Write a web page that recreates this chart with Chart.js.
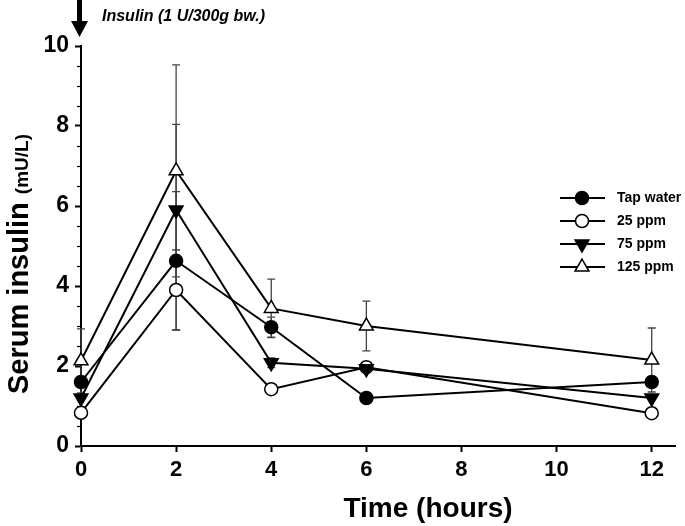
<!DOCTYPE html>
<html>
<head>
<meta charset="utf-8">
<script src="https://cdn.jsdelivr.net/npm/chart.js@4"></script>
<style>
  html, body { margin: 0; padding: 0; background: #fff; }
  #wrap { width: 685px; height: 526px; }
</style>
</head>
<body>
<div id="wrap"><canvas id="myChart" width="685" height="526"></canvas></div>
<script>
// data
const times = [0, 2, 4, 6, 12];
const seriesNames = ["Tap water", "25 ppm", "75 ppm", "125 ppm"];
const tapWater = [1.6, 4.63, 2.97, 1.2, 1.6];
const ppm25 = [0.83, 3.9, 1.42, 1.97, 0.82];
const ppm75 = [1.2, 5.9, 2.08, 1.93, 1.2];
const ppm125 = [2.13, 6.88, 3.44, 3.0, 2.15];
const tapWaterErr = [0, 1.73, 0.25, 0.06, 0];
const ppm25Err = [0, 1.0, 0, 0.05, 0];
const ppm75Err = [0, 2.14, 0.12, 0.07, 0];
const ppm125Err = [0.8, 2.65, 0.73, 0.62, 0.8];
const xTickValues = [0, 2, 4, 6, 8, 10, 12];
const yTickValues = [0, 2, 4, 6, 8, 10];

const FONT = "'Liberation Sans', Arial, sans-serif";
const errs = [tapWaterErr, ppm25Err, ppm75Err, ppm125Err];

function makeSet(label, values, fill, style, rot, order) {
  return {
    label: label,
    data: times.map((t, i) => ({ x: t, y: values[i] })),
    borderColor: "#000",
    borderWidth: 2,
    backgroundColor: fill,
    pointBackgroundColor: fill,
    pointBorderColor: "#000",
    pointBorderWidth: 1.5,
    pointStyle: style,
    pointRotation: rot,
    pointRadius: style === "triangle" ? 8 : 6.5,
    pointHoverRadius: style === "triangle" ? 8 : 6.5,
    tension: 0,
    clip: false,
    order: order
  };
}

const decor = {
  id: "decor",
  beforeDatasetsDraw(chart) {
    const ctx = chart.ctx;
    const xs = chart.scales.x, ys = chart.scales.y;
    ctx.save();
    ctx.strokeStyle = "#444";
    ctx.lineWidth = 1.3;
    chart.data.datasets.forEach((ds, i) => {
      ds.data.forEach((p, j) => {
        const e = errs[i][j];
        if (!e) return;
        const x = xs.getPixelForValue(p.x);
        const y1 = ys.getPixelForValue(p.y + e);
        const y2 = ys.getPixelForValue(p.y - e);
        ctx.beginPath();
        ctx.moveTo(x, y1); ctx.lineTo(x, y2);
        ctx.moveTo(x - 4, y1); ctx.lineTo(x + 4, y1);
        ctx.moveTo(x - 4, y2); ctx.lineTo(x + 4, y2);
        ctx.stroke();
      });
    });
    ctx.restore();
  },
  afterDraw(chart) {
    const ctx = chart.ctx;
    const ys = chart.scales.y;
    ctx.save();
    // minor ticks on y
    ctx.strokeStyle = "#000";
    ctx.lineWidth = 1.2;
    const left = chart.chartArea.left;
    for (let v = 0.5; v < 10; v += 0.5) {
      if (v % 2 === 0) continue;
      const y = Math.round(ys.getPixelForValue(v)) + 0.5;
      ctx.beginPath(); ctx.moveTo(left - 4, y); ctx.lineTo(left, y); ctx.stroke();
    }

    // legend
    const rowY = [198, 221, 244, 267];
    chart.data.datasets.forEach((ds, i) => {
      const y = rowY[i];
      ctx.strokeStyle = "#000";
      ctx.lineWidth = 2;
      ctx.beginPath(); ctx.moveTo(560, y); ctx.lineTo(605, y); ctx.stroke();
      ctx.fillStyle = ds.pointBackgroundColor;
      ctx.lineWidth = 1.5;
      Chart.helpers.drawPoint(ctx, {
        pointStyle: ds.pointStyle, radius: ds.pointRadius,
        rotation: ds.pointRotation, borderWidth: 1.5
      }, 582, y);
      ctx.fillStyle = "#000";
      ctx.font = "bold 14px " + FONT;
      ctx.textAlign = "left";
      ctx.textBaseline = "middle";
      ctx.fillText(ds.label, 617, y);
    });

    // arrow + insulin note
    ctx.fillStyle = "#000";
    ctx.fillRect(77, 0, 5, 22);
    ctx.beginPath();
    ctx.moveTo(71, 21); ctx.lineTo(88, 21); ctx.lineTo(79.5, 37); ctx.closePath();
    ctx.fill();
    ctx.font = "italic bold 16px " + FONT;
    ctx.textAlign = "left";
    ctx.textBaseline = "alphabetic";
    ctx.fillText("Insulin (1 U/300g bw.)", 102, 21);

    // x title
    ctx.font = "bold 28px " + FONT;
    ctx.textAlign = "center";
    ctx.fillText("Time (hours)", 428, 517);

    // y title
    ctx.translate(28, 264);
    ctx.rotate(-Math.PI / 2);
    ctx.font = "bold 29px " + FONT;
    const a = "Serum insulin ";
    const wa = ctx.measureText(a).width;
    ctx.font = "bold 19px " + FONT;
    const b = "(mU/L)";
    const wb = ctx.measureText(b).width;
    const start = -(wa + wb) / 2;
    ctx.textAlign = "left";
    ctx.font = "bold 29px " + FONT;
    ctx.fillText(a, start, 0);
    ctx.font = "bold 19px " + FONT;
    ctx.fillText(b, start + wa, 0);
    ctx.restore();
  }
};

const ctx = document.getElementById("myChart").getContext("2d");
const myChart = new Chart(ctx, {
  type: "line",
  data: {
    datasets: [
      makeSet(seriesNames[0], tapWater, "#000", "circle", 0, 4),
      makeSet(seriesNames[1], ppm25, "#fff", "circle", 0, 3),
      makeSet(seriesNames[2], ppm75, "#000", "triangle", 180, 2),
      makeSet(seriesNames[3], ppm125, "#fff", "triangle", 0, 1)
    ]
  },
  options: {
    responsive: false,
    animation: false,
    layout: { padding: { top: 46, right: 8, left: 0, bottom: 0 } },
    plugins: { legend: { display: false }, tooltip: { enabled: false }, title: { display: false } },
    scales: {
      x: {
        type: "linear",
        min: 0,
        max: 12.5,
        afterBuildTicks: (s) => { s.ticks = xTickValues.map(v => ({ value: v })); },
        afterFit: (s) => { s.height = 80; },
        grid: { drawOnChartArea: false, tickLength: 6, tickWidth: 2, tickColor: "#000" },
        border: { color: "#000", width: 2 },
        ticks: { color: "#000", font: { family: FONT, size: 22, weight: "bold" }, padding: 5, maxRotation: 0 }
      },
      y: {
        min: 0,
        max: 10,
        afterBuildTicks: (s) => { s.ticks = yTickValues.map(v => ({ value: v })); },
        afterFit: (s) => { s.width = 81; },
        grid: { drawOnChartArea: false, tickLength: 6, tickWidth: 2, tickColor: "#000" },
        border: { color: "#000", width: 2 },
        ticks: { color: "#000", font: { family: FONT, size: 23, weight: "bold" }, padding: 6 }
      }
    }
  },
  plugins: [decor]
});
</script>
</body>
</html>
